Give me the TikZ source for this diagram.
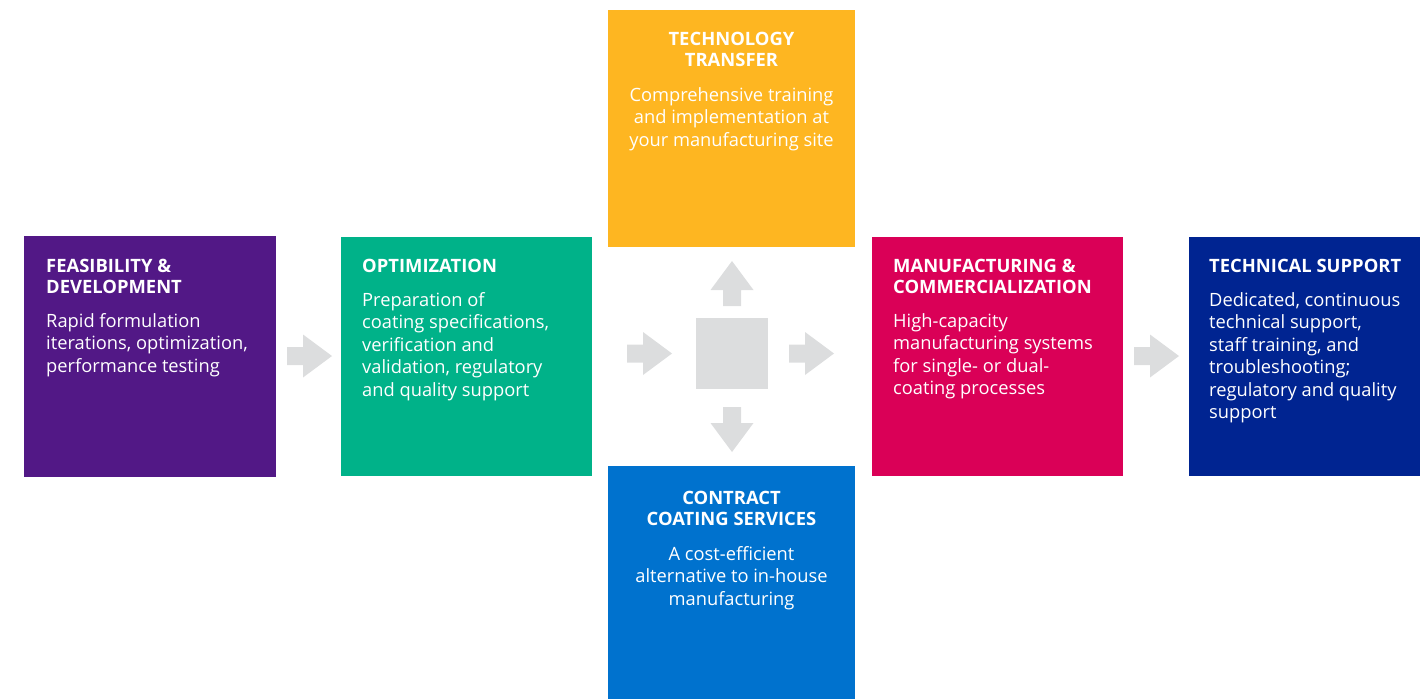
\documentclass[tikz,border=0pt]{standalone}
\usepackage{fontspec}
\setmainfont{Open Sans}
\definecolor{cpurple}{RGB}{82,24,134}
\definecolor{cgreen}{RGB}{0,178,137}
\definecolor{cyellow}{RGB}{254,182,33}
\definecolor{cblue}{RGB}{0,114,206}
\definecolor{cmagenta}{RGB}{218,0,87}
\definecolor{cnavy}{RGB}{0,36,145}
\definecolor{cgray}{RGB}{220,221,222}
\begin{document}
\begin{tikzpicture}[x=1pt,y=-1pt,
  box/.style={inner sep=0pt, outer sep=0pt, anchor=north west, draw=none},
  ttl/.style={inner sep=0pt, text=white, anchor=base west, align=left,
    font=\fontsize{18.4}{21}\selectfont\bfseries},
  bdy/.style={inner sep=0pt, text=white, anchor=base west, align=left,
    font=\fontsize{18.3}{22.5}\selectfont},
  ttlc/.style={ttl, anchor=base, align=center},
  bdyc/.style={bdy, anchor=base, align=center},
  blockarrow/.pic={\fill[cgray] (-45,-9) -- (-29,-9) -- (-29,-21.5) -- (0,0) -- (-29,21.5) -- (-29,9) -- (-45,9) -- cycle;}
]
\useasboundingbox (0,0) rectangle (1420,699);
% boxes
\node[box, fill=cpurple, minimum width=252pt, minimum height=241pt] (feas) at (24,236) {};
\node[box, fill=cgreen, minimum width=251pt, minimum height=239pt] (opt) at (341,237) {};
\node[box, fill=cyellow, minimum width=247pt, minimum height=237pt] (tech) at (608,10) {};
\node[box, fill=cblue, minimum width=247pt, minimum height=233pt] (contract) at (608,466) {};
\node[box, fill=cmagenta, minimum width=251pt, minimum height=239pt] (manu) at (872,237) {};
\node[box, fill=cnavy, minimum width=231pt, minimum height=239pt] (support) at (1189,237) {};
\node[box, fill=cgray, minimum width=72pt, minimum height=71pt] (hub) at (696,318) {};
% arrows
\coordinate (a1) at (332,356);
\coordinate (a2) at (672,353.5);
\coordinate (a3) at (834,353.5);
\coordinate (a4) at (732,261);
\coordinate (a5) at (732,452);
\coordinate (a6) at (1179,356);
\pic at (a1) {blockarrow};
\pic at (a2) {blockarrow};
\pic at (a3) {blockarrow};
\pic[rotate=90] at (a4) {blockarrow};
\pic[rotate=-90] at (a5) {blockarrow};
\pic at (a6) {blockarrow};
% texts (anchor = baseline of last line)
\node[ttl] (t1) at (46,293) {FEASIBILITY \&\\DEVELOPMENT};
\node[bdy] (b1) at (46,372) {Rapid formulation\\iterations, optimization,\\performance testing};
\node[ttl] (t2) at (362,272) {OPTIMIZATION};
\node[bdy] (b2) at (362,396) {Preparation of\\coating specifications,\\verification and\\validation, regulatory\\and quality support};
\node[ttlc] (t3) at (731.5,66) {TECHNOLOGY\\TRANSFER};
\node[bdyc] (b3) at (731.5,146) {Comprehensive training\\and implementation at\\your manufacturing site};
\node[ttlc] (t4) at (731.5,525) {CONTRACT\\COATING SERVICES};
\node[bdyc] (b4) at (731.5,605) {A cost-efficient\\alternative to in-house\\manufacturing};
\node[ttl] (t5) at (893,293) {MANUFACTURING \&\\COMMERCIALIZATION};
\node[bdy] (b5) at (893,394.5) {High-capacity\\manufacturing systems\\for single- or dual-\\coating processes};
\node[ttl] (t6) at (1209,272) {TECHNICAL SUPPORT};
\node[bdy] (b6) at (1209,418.5) {Dedicated, continuous\\technical support,\\staff training, and\\troubleshooting;\\regulatory and quality\\support};
\end{tikzpicture}
\end{document}
